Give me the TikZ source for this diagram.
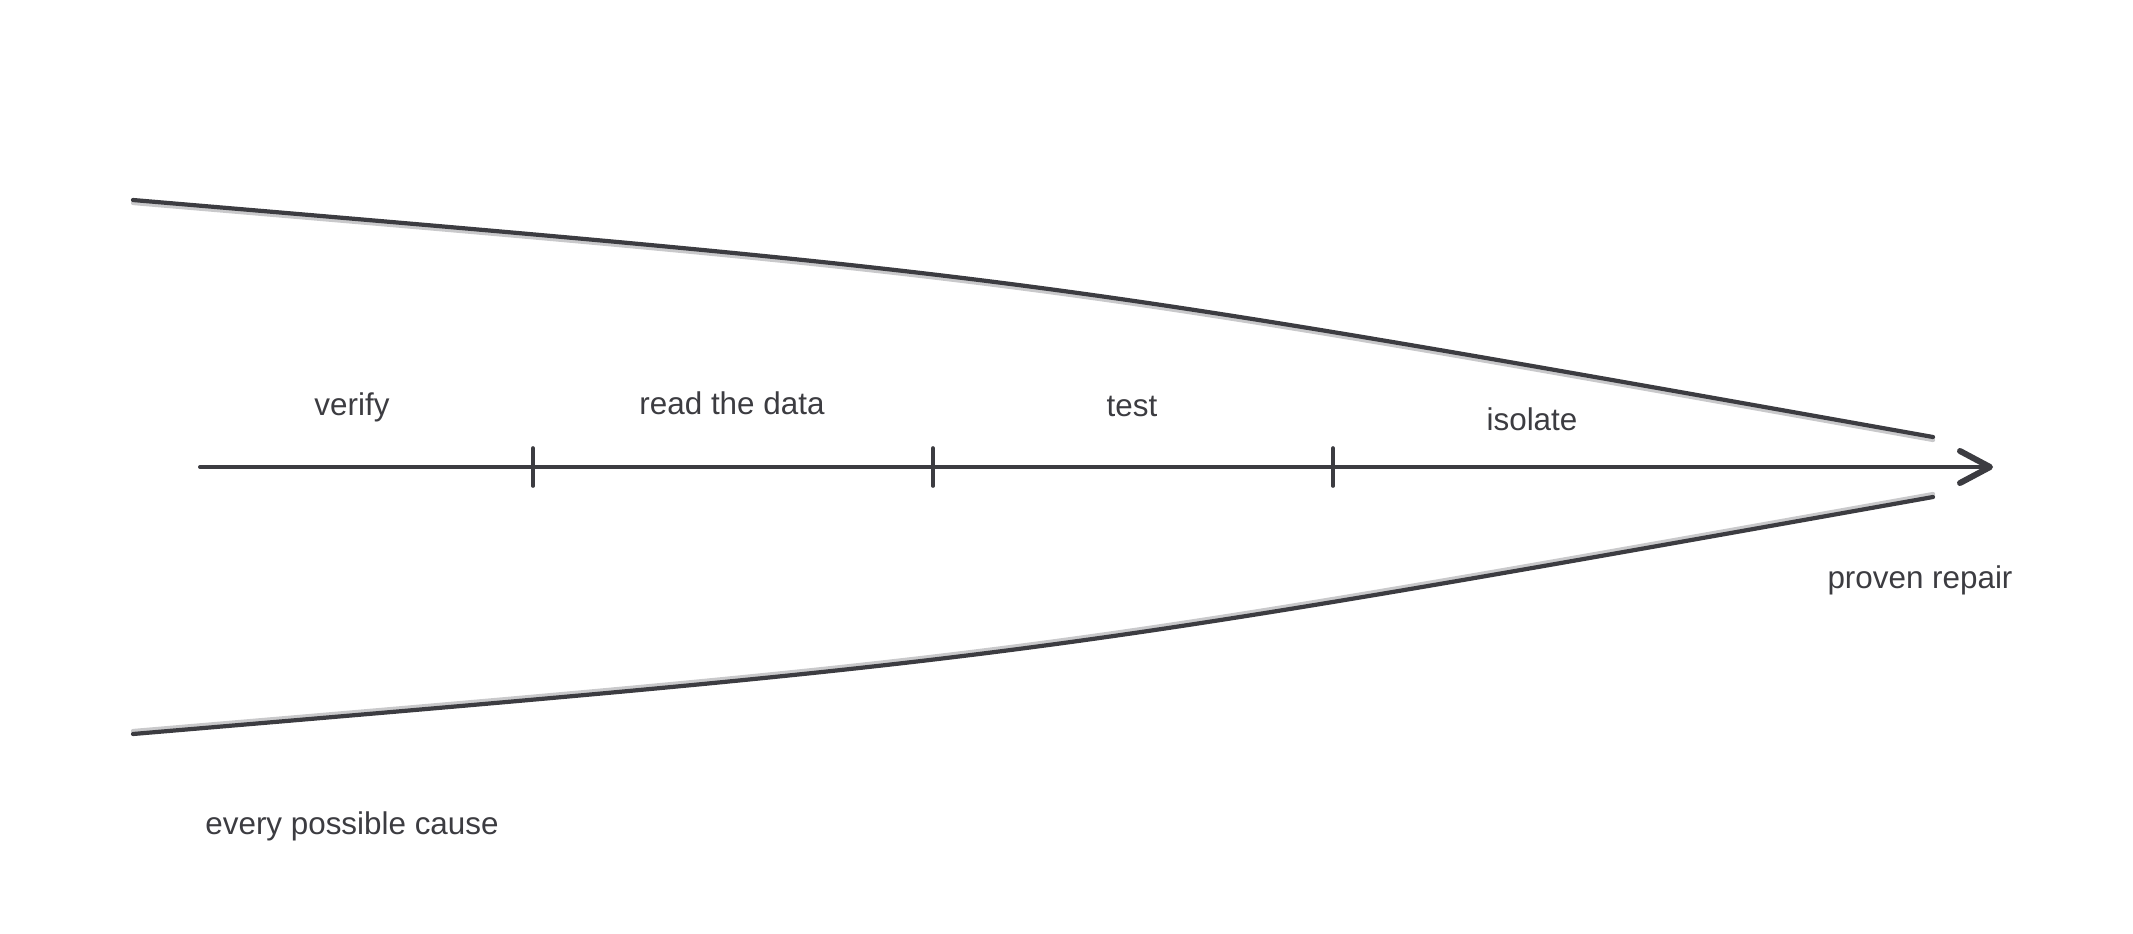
\documentclass[tikz,border=0pt]{standalone}
\usepackage{fontspec}
\setmainfont{Liberation Sans}
\usetikzlibrary{calc}
\definecolor{ink}{HTML}{3C3C41}
\definecolor{shade}{HTML}{C9C9CB}
\tikzset{
  curveline/.style={draw=ink, line width=2.1pt, line cap=round},
  shadowline/.style={draw=shade, line width=2.1pt, line cap=round},
  axisline/.style={draw=ink, line width=2pt, line cap=round},
  tickline/.style={draw=ink, line width=1.8pt, line cap=round},
  headline/.style={draw=ink, line width=3pt, line cap=round, line join=round},
  lbl/.style={text=ink, inner sep=0pt, anchor=base, font=\fontsize{15.7pt}{18pt}\selectfont},
}
\begin{document}
\begin{tikzpicture}[x=0.5pt, y=-0.5pt]
\useasboundingbox (0,0) rectangle (2133,933);
% funnel curves
\coordinate (ts) at (133,200);
\coordinate (tc) at (1030,276);
\coordinate (te) at (1933,437);
\coordinate (bs) at (133,734);
\coordinate (bc) at (1030,658);
\coordinate (be) at (1933,497);
\draw[shadowline] ([yshift=-1.5pt]ts) .. controls ([yshift=-1.5pt]tc) .. ([yshift=-1.5pt]te);
\draw[shadowline] ([yshift=1.5pt]bs) .. controls ([yshift=1.5pt]bc) .. ([yshift=1.5pt]be);
\draw[curveline] (ts) .. controls (tc) .. (te);
\draw[curveline] (bs) .. controls (bc) .. (be);
% axis
\coordinate (ax) at (200,467);
\coordinate (tip) at (1990,467);
\draw[axisline] (ax) -- (tip);
\draw[headline] ($(tip)+(-30,-16)$) -- (tip) -- ($(tip)+(-30,16)$);
% ticks
\coordinate (k1) at (533,467);
\coordinate (k2) at (933,467);
\coordinate (k3) at (1333,467);
\foreach \k in {k1,k2,k3}
  \draw[tickline] ($(\k)+(0,-19)$) -- ($(\k)+(0,19)$);
% labels
\node[lbl] (verify) at (352,415) {verify};
\node[lbl] (read) at (732,414) {read the data};
\node[lbl] (test) at (1132,416) {test};
\node[lbl] (isolate) at (1532,430) {isolate};
\node[lbl] (proven) at (1920,588) {proven repair};
\node[lbl, anchor=base west] (every) at (205,834) {every possible cause};
\end{tikzpicture}
\end{document}
